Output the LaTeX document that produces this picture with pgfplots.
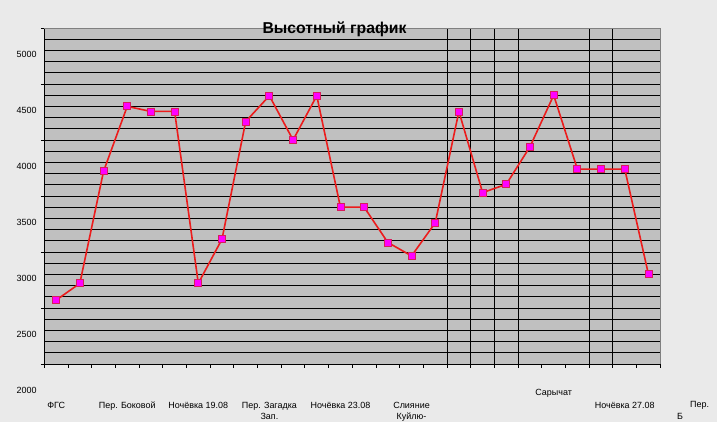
\documentclass[border=0pt]{standalone}
\usepackage{fontspec}
\setmainfont{Liberation Sans}
\usepackage{pgfplots}
\pgfplotsset{compat=1.18}

\definecolor{fon}{HTML}{EAEAEA}
\definecolor{pole}{HTML}{C0C0C0}
\definecolor{ramka}{HTML}{808080}
\definecolor{liniya}{HTML}{EC1C1C}
\definecolor{marker}{HTML}{FF00FF}
\definecolor{kant}{HTML}{D81E5B}

\begin{document}
\begin{tikzpicture}
\path[use as bounding box, fill=fon] (0,0) rectangle (717bp,422bp);
\begin{axis}[
    name=ax,
    at={(44.3bp,58bp)}, anchor=south west,
    width=616bp, height=336bp, scale only axis,
    xmin=0.5, xmax=26.5,
    ymin=2000, ymax=5000,
    axis x line*=bottom, axis y line*=left,
    axis line style={black, line width=0.9bp, -},
    axis background/.style={fill=pole},
    tick align=outside, tick pos=left,
    major tick length=3.5bp, minor tick length=3.5bp,
    tick style={black, line width=0.9bp},
    xtick={1,4,7,10,13,16,22,25},
    major x tick style={draw=none},
    minor xtick={0.5,1.5,...,26.5},
    extra x ticks={17.5,18.5,19.5,20.5,23.5,24.5},
    extra x tick labels={},
    extra x tick style={grid=major, major tick length=0pt},
    ytick={2000,2500,...,5000},
    minor ytick={2100,2200,...,4900},
    minor y tick style={draw=none},
    ymajorgrids, yminorgrids,
    grid style={black, line width=0.9bp},
    yticklabels={2000,2500,3000,3500,4000,4500,5000},
    yticklabel style={font=\fontsize{9}{11}\selectfont, anchor=east, inner sep=0pt,
        xshift=-4bp, yshift=-27.7bp},
    typeset ticklabels with strut,
    xticklabels={ФГС, Пер. Боковой, Ночёвка 19.08, {Пер. Загадка\\Зап.}, Ночёвка 23.08,
                 {Слияние\\Куйлю-}, \raisebox{12.7bp}[0pt][0pt]{Сарычат}, Ночёвка 27.08},
    xticklabel style={font=\fontsize{9}{11.7}\selectfont, align=center, anchor=north,
        inner sep=0pt, yshift=-32.4bp},
]
\addplot[color=liniya, line width=1.6bp, mark=square*, mark size=3.5bp,
    mark options={fill=marker, draw=kant, line width=0.8bp, solid}]
    coordinates {
        (1,2570)(2,2720)(3,3720)(4,4300)(5,4255)(6,4255)(7,2720)(8,3115)(9,4165)
        (10,4395)(11,4000)(12,4395)(13,3400)(14,3400)(15,3085)(16,2965)(17,3260)
        (18,4255)(19,3530)(20,3605)(21,3940)(22,4400)(23,3740)(24,3740)(25,3740)(26,2800)
    };
\end{axis}
\draw[ramka, line width=0.9bp] (ax.north west) -- (ax.north east) -- (ax.south east);
\node[anchor=base, font=\bfseries\fontsize{15.8}{18}\selectfont] at (334.5bp,388.7bp) {Высотный график};
\node[anchor=base west, font=\fontsize{9}{11}\selectfont, inner sep=0pt] at (690bp,14.5bp) {Пер.};
\node[anchor=base west, font=\fontsize{9}{11}\selectfont, inner sep=0pt] at (677bp,3bp) {Б};
\end{tikzpicture}
\end{document}
